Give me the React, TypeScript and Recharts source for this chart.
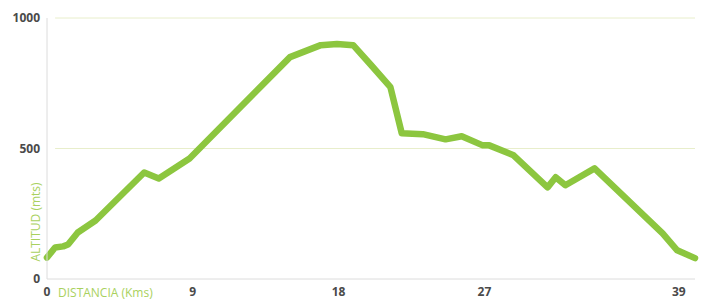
import React from 'react';
import { LineChart, Line, XAxis, YAxis, ReferenceLine } from 'recharts';

const distanceKm = [0, 0.5, 1.0, 1.3, 1.9, 3.0, 6.0, 6.9, 8.8, 15.0, 16.9, 17.9, 18.9, 20.0, 21.2, 21.9, 23.2, 24.6, 25.6, 26.9, 27.3, 28.8, 30.9, 31.4, 32.0, 33.8, 38.0, 38.9, 40.0];
const altitudeM = [82, 121, 125, 132, 178, 224, 408, 385, 462, 850, 896, 900, 896, 820, 735, 558, 555, 535, 547, 512, 512, 474, 351, 390, 359, 424, 175, 110, 80];
const xTicks = [0, 9, 18, 27, 39];
const yTicks = [0, 500, 1000];
const gridValues = [500, 1000];

const data = distanceKm.map((d, i) => ({ d, alt: altitudeM[i] }));

const GREEN = '#8cc63f';
const LABEL_GREEN = '#a9d15e';
const TICK = '#4a4a4a';
const FONT = '"Open Sans", sans-serif';

export default function App() {
  return (
    <div style={{ position: 'absolute', left: 0, top: 0, background: '#fff' }}>
      <LineChart width={705} height={300} data={data} margin={{ top: 18, right: 10, left: 0, bottom: 0 }}>
        {gridValues.map((v) => (
          <ReferenceLine
            key={v}
            segment={[{ x: 0.5, y: v }, { x: 40, y: v }]}
            stroke="#e8eecb"
            strokeWidth={1}
          />
        ))}
        <XAxis
          dataKey="d"
          type="number"
          domain={[0, 40]}
          ticks={xTicks}
          height={21}
          tickLine={false}
          tickSize={0}
          tickMargin={8}
          axisLine={{ stroke: '#dcdcdc' }}
          tick={{ fill: TICK, fontSize: 12, fontWeight: 700, fontFamily: FONT }}
          label={{
            content: () => (
              <text x={58} y={297} fill={LABEL_GREEN} fontSize={12} fontFamily={FONT}>
                DISTANCIA (Kms)
              </text>
            ),
          }}
        />
        <YAxis
          type="number"
          domain={[0, 1000]}
          ticks={yTicks}
          width={47}
          tickLine={false}
          tickSize={0}
          tickMargin={7}
          axisLine={{ stroke: '#dcdcdc' }}
          tick={{ fill: TICK, fontSize: 12, fontWeight: 700, fontFamily: FONT }}
          label={{
            content: () => (
              <text
                x={40}
                y={222}
                transform="rotate(-90 40 222)"
                textAnchor="middle"
                fill={LABEL_GREEN}
                fontSize={12}
                fontFamily={FONT}
              >
                ALTITUD (mts)
              </text>
            ),
          }}
        />
        <Line
          type="linear"
          dataKey="alt"
          stroke={GREEN}
          strokeWidth={6.5}
          strokeLinejoin="round"
          strokeLinecap="round"
          dot={false}
          activeDot={false}
          isAnimationActive={false}
        />
      </LineChart>
    </div>
  );
}
